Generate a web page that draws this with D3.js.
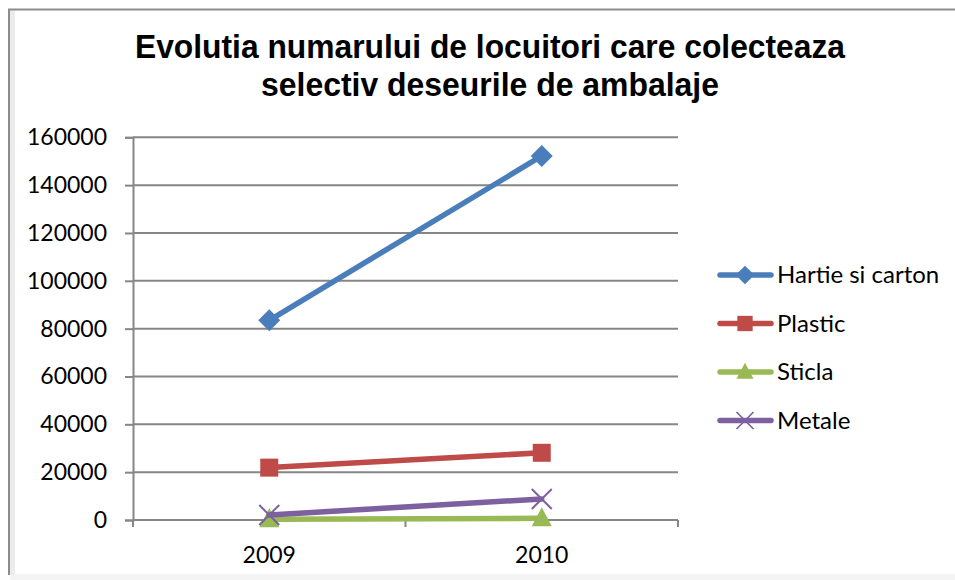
<!DOCTYPE html>
<html>
<head>
<meta charset="utf-8">
<script src="https://cdn.jsdelivr.net/npm/d3@7"></script>
<style>
  body { margin: 0; background: #fff; overflow: hidden; }
  svg text { font-family: Lato, "Open Sans", sans-serif; fill: #000; }
</style>
</head>
<body>
<svg id="chart" width="955" height="580"></svg>
<script>
// data
const years = ["2009", "2010"];
const seriesNames = ["Hartie si carton", "Plastic", "Sticla", "Metale"];
const hartie = [83500, 152200];
const plastic = [21900, 28100];
const sticla = [300, 700];
const metale = [2100, 8800];
const yTicks = [0, 20000, 40000, 60000, 80000, 100000, 120000, 140000, 160000];
const titleLines = ["Evolutia numarului de locuitori care colecteaza", "selectiv deseurile de ambalaje"];

const colors = ["#4a7ebb", "#be4b48", "#98b954", "#7d60a0"];
const markers = ["diamond", "square", "triangle", "x"];
const allSeries = [hartie, plastic, sticla, metale];

const svg = d3.select("#chart");

// chart frame
svg.append("rect")
    .attr("x", 10).attr("y", 574)
    .attr("width", 950).attr("height", 6)
    .attr("fill", "#f4f4f4");
svg.append("rect")
    .attr("x", 10).attr("y", 10)
    .attr("width", 5).attr("height", 565)
    .attr("fill", "#ececec");
svg.append("path")
    .attr("d", "M9,575V9.5H1000")
    .attr("fill", "none")
    .attr("stroke", "#8c8c8c")
    .attr("stroke-width", 2);

// title
const titleLen = [710, 458];
svg.append("g").selectAll("text")
    .data(titleLines)
    .enter().append("text")
    .attr("x", 490)
    .attr("y", function (d, i) { return 58 + i * 38; })
    .attr("text-anchor", "middle")
    .attr("textLength", function (d, i) { return titleLen[i]; })
    .attr("lengthAdjust", "spacingAndGlyphs")
    .style("font-family", "'Liberation Sans', Arial, sans-serif")
    .style("font-weight", "bold")
    .style("font-size", "33px")
    .text(function (d) { return d; });

const plotLeft = 133, plotRight = 678, plotTop = 137.3, plotBottom = 520;

const x = d3.scaleBand().domain(years).range([plotLeft, plotRight]);
const y = d3.scaleLinear().domain([0, 160000]).range([plotBottom, plotTop]);

// gridlines + y ticks
const yAxis = svg.append("g")
    .attr("transform", "translate(" + plotLeft + ",0)")
    .call(d3.axisLeft(y).tickValues(yTicks).tickSize(8).tickPadding(18).tickFormat(d3.format("d")));
yAxis.select(".domain").attr("stroke", "#868686").attr("stroke-width", 2);
yAxis.selectAll(".tick line").attr("stroke", "#868686").attr("stroke-width", 2);
yAxis.selectAll(".tick text")
    .style("font-size", "23px")
    .style("font-family", "Lato, sans-serif");

svg.append("g").selectAll("line")
    .data(yTicks.slice(1))
    .enter().append("line")
    .attr("x1", plotLeft).attr("x2", plotRight)
    .attr("y1", function (d) { return y(d); })
    .attr("y2", function (d) { return y(d); })
    .attr("stroke", "#868686").attr("stroke-width", 2);

// x axis
const xAxis = svg.append("g")
    .attr("transform", "translate(0," + plotBottom + ")")
    .call(d3.axisBottom(x).tickSize(0).tickPadding(27));
xAxis.select(".domain").remove();
xAxis.selectAll(".tick text").style("font-size", "23px");
svg.append("line")
    .attr("x1", plotLeft).attr("x2", plotRight)
    .attr("y1", plotBottom).attr("y2", plotBottom)
    .attr("stroke", "#868686").attr("stroke-width", 2);
svg.append("g").selectAll("line")
    .data([plotLeft, plotLeft + x.step(), plotRight])
    .enter().append("line")
    .attr("x1", function (d) { return d; })
    .attr("x2", function (d) { return d; })
    .attr("y1", plotBottom).attr("y2", plotBottom + 7)
    .attr("stroke", "#868686").attr("stroke-width", 2);

function drawMarker(g, kind, color, k) {
    k = k || 1;
    if (kind === "diamond") {
        g.append("path").attr("d", "M0,-11L11,0L0,11L-11,0Z").attr("fill", color)
            .attr("transform", "scale(" + k + ")");
    } else if (kind === "square") {
        g.append("rect").attr("x", -9).attr("y", -9).attr("width", 18).attr("height", 18).attr("fill", color)
            .attr("transform", "scale(" + k + ")");
    } else if (kind === "triangle") {
        g.append("path").attr("d", "M0,-11L10,8L-10,8Z").attr("fill", color)
            .attr("transform", "scale(" + k + ")");
    } else {
        g.append("path").attr("d", "M-10,-10L10,10M-10,10L10,-10")
            .attr("stroke", color).attr("stroke-width", 2).attr("fill", "none")
            .attr("transform", "scale(" + k + ")");
    }
}

const line = d3.line()
    .x(function (d, i) { return x(years[i]) + x.bandwidth() / 2; })
    .y(function (d) { return y(d); });

// draw order so that blue stays on top like the reference
const order = [2, 3, 1, 0];
order.forEach(function (s) {
    const data = allSeries[s];
    svg.append("path")
        .datum(data)
        .attr("d", line)
        .attr("fill", "none")
        .attr("stroke", colors[s])
        .attr("stroke-width", 5.5)
        .attr("stroke-linecap", "round");
    data.forEach(function (v, i) {
        const g = svg.append("g")
            .attr("transform", "translate(" + (x(years[i]) + x.bandwidth() / 2) + "," + y(v) + ")");
        drawMarker(g, markers[s], colors[s]);
    });
});

// legend
const legend = svg.append("g");
seriesNames.forEach(function (name, i) {
    const cy = 275 + i * 48.5;
    legend.append("line")
        .attr("x1", 720).attr("x2", 771)
        .attr("y1", cy).attr("y2", cy)
        .attr("stroke", colors[i]).attr("stroke-width", 5.5)
        .attr("stroke-linecap", "round");
    const g = legend.append("g").attr("transform", "translate(745," + cy + ")");
    drawMarker(g, markers[i], colors[i], 0.85);
    legend.append("text")
        .attr("x", 777).attr("y", cy + 8)
        .style("font-size", "24px")
        .text(name);
});
</script>
</body>
</html>
